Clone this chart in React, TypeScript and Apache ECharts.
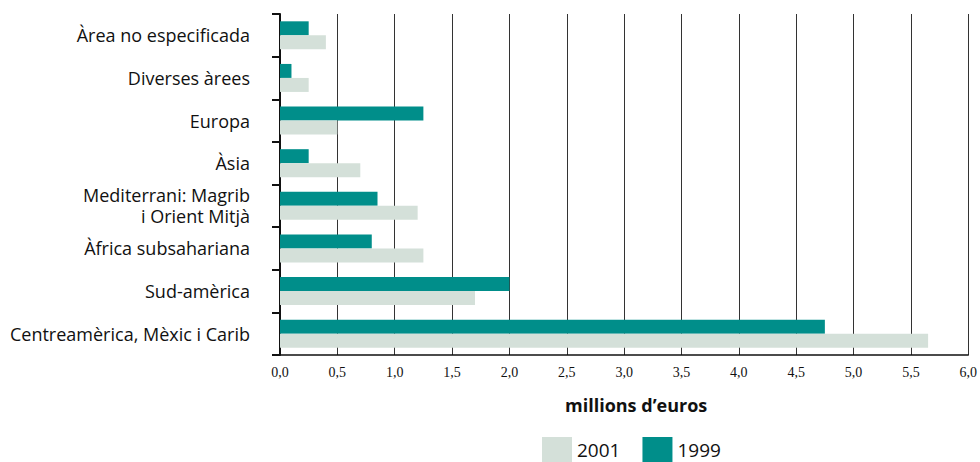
import React, { useEffect, useRef } from "react";
import * as echarts from "echarts";

const categories = [
  "Centreamèrica, Mèxic i Carib",
  "Sud-amèrica",
  "Àfrica subsahariana",
  "Mediterrani: Magrib\ni Orient Mitjà",
  "Àsia",
  "Europa",
  "Diverses àrees",
  "Àrea no especificada",
];
const values1999 = [4.75, 2.0, 0.8, 0.85, 0.25, 1.25, 0.1, 0.25];
const values2001 = [5.65, 1.7, 1.25, 1.2, 0.7, 0.5, 0.25, 0.4];
const axisTitle = "millions d’euros";

export default function App() {
  const ref = useRef<HTMLDivElement>(null);
  useEffect(() => {
    const chart = echarts.init(ref.current!, null, { renderer: "svg" });
    chart.setOption({
      animation: false,
      backgroundColor: "#ffffff",
      grid: { left: 280, right: 11, top: 14, bottom: 107, containLabel: false },
      legend: {
        data: ["2001", "1999"],
        left: 542,
        top: 437,
        icon: "rect",
        itemWidth: 30,
        itemHeight: 25,
        itemGap: 22,
        textStyle: { fontFamily: "Open Sans", fontSize: 19, color: "#111" },
        padding: 0,
      },
      graphic: [
        {
          type: "text",
          left: 565,
          top: 396,
          style: {
            text: axisTitle,
            font: "bold 18px 'Open Sans'",
            fill: "#111",
          },
        },
      ],
      xAxis: {
        type: "value",
        min: 0,
        max: 6,
        interval: 0.5,
        axisLine: { show: true, lineStyle: { color: "#111", width: 1.5 } },
        axisTick: { show: false },
        splitLine: { show: true, lineStyle: { color: "#333", width: 1 } },
        axisLabel: {
          margin: 10,
          fontFamily: "Liberation Serif",
          fontSize: 14,
          color: "#111",
          formatter: (v: number) => v.toFixed(1).replace(".", ","),
        },
      },
      yAxis: {
        type: "category",
        data: categories,
        axisLine: { show: true, lineStyle: { color: "#111", width: 2 } },
        axisTick: { show: true, length: 8, lineStyle: { color: "#111", width: 2 } },
        axisLabel: {
          margin: 30,
          fontFamily: "Open Sans",
          fontSize: 18,
          lineHeight: 21,
          color: "#111",
          align: "right",
        },
      },
      series: [
        {
          name: "1999",
          type: "bar",
          data: values1999,
          barWidth: 14,
          barGap: "0%",
          itemStyle: { color: "#008E8A" },
        },
        {
          name: "2001",
          type: "bar",
          data: values2001,
          barWidth: 14,
          barGap: "0%",
          itemStyle: { color: "#D4E0D9" },
        },
      ],
    });
    return () => chart.dispose();
  }, []);
  return <div ref={ref} style={{ width: 980, height: 462, position: "absolute", left: 0, top: 0 }} />;
}
